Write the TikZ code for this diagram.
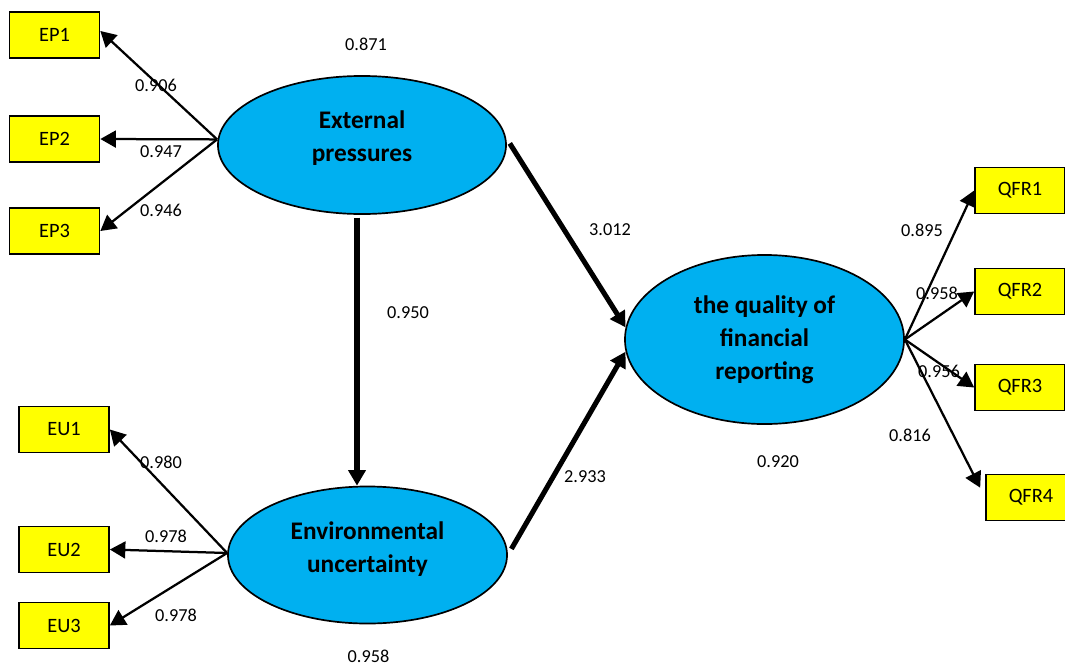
\documentclass[tikz,border=0pt]{standalone}
\usepackage{fontspec}
\setmainfont{Carlito}
\usetikzlibrary{arrows.meta,shapes.geometric}
\definecolor{latentblue}{RGB}{0,176,240}
\definecolor{itemyellow}{RGB}{255,255,0}

\begin{document}
\begin{tikzpicture}[x=0.025cm,y=-0.025cm,->,>={Triangle[length=11pt,width=12pt]},
                line width=1.6pt,
                latent node/.style={draw, ellipse, fill=latentblue, line width=1.2pt, align=center, inner sep=0pt,
                  font=\fontsize{18}{23.5}\selectfont\bfseries},
                item node/.style={draw, rectangle, fill=itemyellow, line width=1.2pt,
                  minimum width=2.25cm, minimum height=1.15cm, font=\fontsize{14.5}{17}\selectfont},
                coef node/.style={font=\fontsize{13}{15}\selectfont, inner sep=1pt},
                path edge/.style={line width=3.6pt, -{Triangle[length=11pt,width=12pt]}}]

  \useasboundingbox (0,0) rectangle (1065,665);

  \node[latent node, minimum width=7.2cm, minimum height=3.45cm, text depth=12pt] (EP) at (362,145) {External\\pressures};
  \node[latent node, minimum width=6.975cm, minimum height=3.425cm, text depth=11pt] (EU) at (367.5,555) {Environmental\\uncertainty};
  \node[latent node, minimum width=6.975cm, minimum height=4.225cm] (QFR) at (764.5,339.5) {the quality of\\financial\\reporting};

  \node[item node] (EP1) at (54.5,35) {EP1};
  \node[item node] (EP2) at (54.5,139) {EP2};
  \node[item node] (EP3) at (54.5,231) {EP3};
  \node[item node] (EU1) at (64,429.5) {EU1};
  \node[item node] (EU2) at (64,549.5) {EU2};
  \node[item node] (EU3) at (64,625.5) {EU3};
  \node[item node] (QFR1) at (1020,190.5) {QFR1};
  \node[item node] (QFR2) at (1020,291.5) {QFR2};
  \node[item node] (QFR3) at (1020,387.5) {QFR3};
  \node[item node] (QFR4) at (1031,497.5) {QFR4};

  \coordinate (EPout) at ([yshift=0.14cm]EP.west);
  \coordinate (EUout) at ([yshift=0.05cm]EU.west);

  \path
    (EPout) edge ([yshift=0.1cm]EP1.east)
    (EPout) edge (EP2.east)
    (EPout) edge (EP3.east)
    (EUout) edge (EU1.east)
    (EUout) edge (EU2.east)
    (EUout) edge (EU3.east)
    (QFR.east) edge (QFR1.west)
    (QFR.east) edge (QFR2.west)
    (QFR.east) edge (QFR3.west)
    (QFR.east) edge [shorten >=7.8pt] (QFR4.west)
    (EP.3) edge [path edge, shorten <=5pt] (QFR.175)
    (EU.east) edge [path edge, shorten <=5pt] (QFR.185)
    ([xshift=-0.125cm]EP.south) edge [path edge, shorten <=2pt] ([xshift=-0.125cm]EP.south |- EU.north);

  % loadings and path coefficients
  \node[coef node] (r2EP) at (366,44) {0.871};
  \node[coef node] (lEP1) at (156,85) {0.906};
  \node[coef node] (lEP2) at (161,152) {0.947};
  \node[coef node] (lEP3) at (161,210) {0.946};
  \node[coef node] (bEPEU) at (408,313) {0.950};
  \node[coef node] (bEPQFR) at (610,230) {3.012};
  \node[coef node] (bEUQFR) at (585,477) {2.933};
  \node[coef node] (lEU1) at (161,462) {0.980};
  \node[coef node] (lEU2) at (166,536.5) {0.978};
  \node[coef node] (lEU3) at (176,615.5) {0.978};
  \node[coef node] (r2EU) at (368.5,656) {0.958};
  \node[coef node] (r2QFR) at (778,462) {0.920};
  \node[coef node] (lQFR1) at (922,230) {0.895};
  \node[coef node] (lQFR2) at (937,293.5) {0.958};
  \node[coef node] (lQFR3) at (939,371) {0.956};
  \node[coef node] (lQFR4) at (910,435) {0.816};
\end{tikzpicture}
\end{document}
